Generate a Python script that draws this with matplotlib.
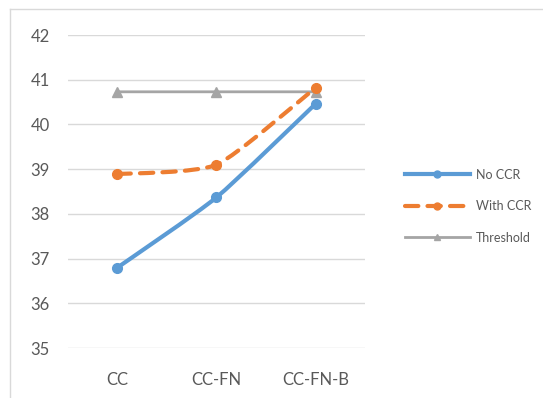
import matplotlib.pyplot as plt
from matplotlib.path import Path
from matplotlib.patches import PathPatch
from matplotlib.lines import Line2D

plt.rcParams['font.family'] = ['Lato', 'DejaVu Sans']

categories = ["CC", "CC-FN", "CC-FN-B"]
no_ccr = [36.8, 38.37, 40.46]
with_ccr = [38.89, 39.1, 40.82]
threshold = [40.73, 40.73, 40.73]

text_col = "#595959"
blue = "#5B9BD5"
orange = "#ED7D31"
gray = "#A5A5A5"


def smooth_path(xs, ys, k=10.0):
    # Excel-like smoothed line: cardinal spline drawn as cubic Bezier segments
    pts = list(zip(xs, ys))
    ext = [pts[0]] + pts + [pts[-1]]
    verts = [pts[0]]
    codes = [Path.MOVETO]
    for i in range(1, len(ext) - 2):
        p0, p1, p2, p3 = ext[i - 1], ext[i], ext[i + 1], ext[i + 2]
        c1 = (p1[0] + (p2[0] - p0[0]) / k, p1[1] + (p2[1] - p0[1]) / k)
        c2 = (p2[0] - (p3[0] - p1[0]) / k, p2[1] - (p3[1] - p1[1]) / k)
        verts += [c1, c2, p2]
        codes += [Path.CURVE4] * 3
    return Path(verts, codes)


fig = plt.figure(figsize=(5.43, 3.98), dpi=100)
ax = fig.add_axes([0.1252, 0.1256, 0.547, 0.7864])

x = list(range(len(categories)))
series = [
    (no_ccr, "No CCR", blue, "-", "o", 7),
    (with_ccr, "With CCR", orange, (0, (3.2, 2.2)), "o", 7),
    (threshold, "Threshold", gray, "-", "^", 7),
]
handles = []
for ys, name, col, ls, mk, ms in reversed(series):
    lw = 2.0 if name == "Threshold" else 3.0
    patch = PathPatch(smooth_path(x, ys), facecolor="none", edgecolor=col,
                      linewidth=lw, linestyle=ls, capstyle="round", zorder=3)
    ax.add_patch(patch)
    ax.plot(x, ys, linestyle="none", marker=mk, markersize=ms,
            color=col, zorder=4)
for ys, name, col, ls, mk, ms in series:
    lw = 2.0 if name == "Threshold" else 3.0
    h = Line2D([], [], color=col, linewidth=lw, linestyle=ls,
               marker=mk, markersize=5 if mk == "o" else 4)
    h.set_dash_capstyle("round")
    handles.append(h)

ax.set_xlim(-0.5, 2.5)
ax.set_ylim(35, 42)
ax.set_yticks(range(35, 43))
ax.set_xticks(x)
ax.set_xticklabels(categories)
ax.grid(axis="y", color="#D9D9D9", linewidth=1)
ax.set_axisbelow(True)
for s in ax.spines.values():
    s.set_visible(False)
ax.tick_params(axis="both", length=0, colors=text_col, labelsize=12)
ax.tick_params(axis="x", pad=17)
ax.tick_params(axis="y", pad=13)

leg = fig.legend(handles, [s[1] for s in series], loc="center left",
                 bbox_to_anchor=(0.725, 0.482), frameon=False, fontsize=9,
                 handlelength=5.2, labelspacing=1.55, handletextpad=0.5)
for t in leg.get_texts():
    t.set_color(text_col)

# chart area border (top and left edges visible)
fig.add_artist(Line2D([0.0184, 0.0184], [0.0, 0.977], color="#D9D9D9", linewidth=1))
fig.add_artist(Line2D([0.0184, 1.0], [0.977, 0.977], color="#D9D9D9", linewidth=1))

fig.savefig("out.png", dpi=100)
